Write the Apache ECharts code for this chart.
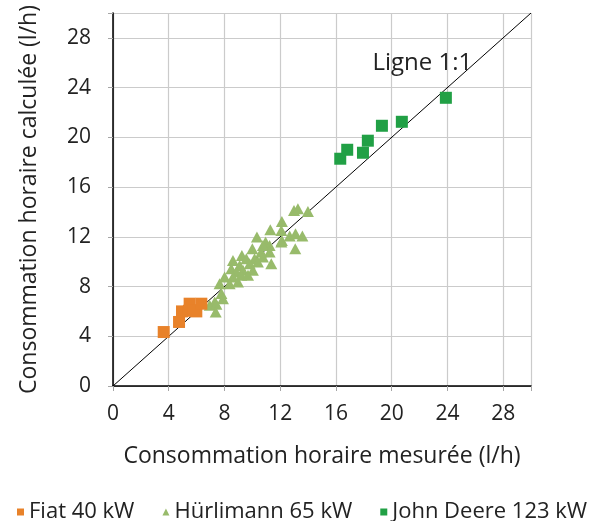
<!DOCTYPE html>
<html><head><meta charset="utf-8">
<script src="https://cdn.jsdelivr.net/npm/echarts@6/dist/echarts.min.js"></script>
<style>html,body{margin:0;padding:0;background:#fff}#c{width:593px;height:521px}</style>
</head><body><div id="c"></div>
<script>
const xTitle = 'Consommation horaire mesurée (l/h)';
const yTitle = 'Consommation horaire calculée (l/h)';
const seriesNames = ['Fiat 40 kW', 'Hürlimann 65 kW', 'John Deere 123 kW'];
const lineLabel = 'Ligne 1:1';
const lineData = [[0, 0], [30, 30]];
const lineLabelAt = [22.2, 26.0];
const fiat = [[3.64,4.34],[4.74,5.15],[4.95,6.0],[5.45,6.05],[5.5,6.62],[5.98,6.0],[5.75,6.1],[6.34,6.62]];
const hurlimann = [
 [12.99,14.12],[13.27,14.26],[13.99,14.04],[12.12,13.24],[11.29,12.57],[12.08,12.5],
 [12.12,11.71],[12.68,12.06],[13.1,12.25],[13.59,12.06],[13.08,11.04],[10.33,11.98],
 [10.95,11.58],[11.24,11.31],[10.76,11.31],[10.0,11.04],[10.64,10.77],[11.24,10.77],
 [9.25,10.5],[8.61,10.1],[9.57,10.24],[10.16,10.24],[10.76,10.37],[11.36,9.84],
 [9.09,9.7],[9.81,9.84],[10.4,9.97],[8.49,9.44],[8.85,9.16],[9.33,9.3],[10.04,9.3],
 [8.01,8.76],[8.61,8.76],[9.21,8.9],[9.69,8.9],[8.37,8.23],[8.97,8.36],[7.78,7.43],
 [7.3,6.75],[6.94,6.49],[7.42,6.57],[7.37,5.95],[7.89,7.02],[7.65,8.23],[12.08,11.58]
];
const johnDeere = [[16.31,18.28],[16.81,19.0],[17.94,18.76],[18.29,19.73],[19.3,20.93],[20.73,21.25],[23.89,23.18]];
const ticks = [0,4,8,12,16,20,24,28];

const font = 'Open Sans';
const chart = echarts.init(document.getElementById('c'));
const axisCommon = {
  type: 'value', min: 0, max: 30, interval: 4,
  axisLine: {show: true, lineStyle: {color: '#a6a6a6', width: 1.2}},
  axisTick: {show: true, length: 5, lineStyle: {color: '#a6a6a6'}},
  splitLine: {show: true, lineStyle: {color: '#cbcbcb', width: 1.2}},
  axisLabel: {color: '#222', fontFamily: font, fontSize: 21,
    formatter: v => ticks.includes(v) ? String(v) : ''},
  nameLocation: 'middle',
  nameTextStyle: {color: '#222', fontFamily: font, fontSize: 23}
};
const borderAxis = {
  type: 'value', min: 0, max: 30, interval: 4,
  axisLine: {show: true, lineStyle: {color: '#000', width: 1.5}},
  axisTick: {show: false}, axisLabel: {show: false}, splitLine: {show: false}
};
chart.setOption({
  animation: false,
  grid: {left: 113, right: 62, top: 13, bottom: 135},
  xAxis: [Object.assign({}, axisCommon, {name: xTitle, nameGap: 59, axisLabel: Object.assign({}, axisCommon.axisLabel, {margin: 18})}),
          Object.assign({}, borderAxis, {position: 'top'})],
  yAxis: [Object.assign({}, axisCommon, {name: yTitle, nameGap: 72, axisLabel: Object.assign({}, axisCommon.axisLabel, {margin: 22})}),
          Object.assign({}, borderAxis, {position: 'right'})],
  legend: {
    left: 17, bottom: -2, width: 576, padding: 0, itemWidth: 7, itemHeight: 7, itemGap: 28,
    textStyle: {color: '#222', fontFamily: font, fontSize: 22},
    data: [{name: seriesNames[0], icon: 'rect'}, {name: seriesNames[1], icon: 'triangle'}, {name: seriesNames[2], icon: 'rect'}]
  },
  series: [
    {type: 'line', data: lineData, symbol: 'none', silent: true,
     lineStyle: {color: '#000', width: 1}, z: 1,
     markPoint: {symbol: 'circle', symbolSize: 0, data: [{coord: lineLabelAt}],
       label: {show: true, formatter: lineLabel, color: '#222', fontFamily: font, fontSize: 24}}},
    {name: seriesNames[0], type: 'scatter', data: fiat, symbol: 'rect', symbolSize: 12,
     itemStyle: {color: '#E8822A', opacity: 1}, z: 3},
    {name: seriesNames[1], type: 'scatter', data: hurlimann, symbol: 'triangle', symbolSize: [12, 11],
     itemStyle: {color: '#98BB6B', opacity: 1}, z: 2},
    {name: seriesNames[2], type: 'scatter', data: johnDeere, symbol: 'rect', symbolSize: 12,
     itemStyle: {color: '#21A045', opacity: 1}, z: 3}
  ]
});
</script></body></html>
